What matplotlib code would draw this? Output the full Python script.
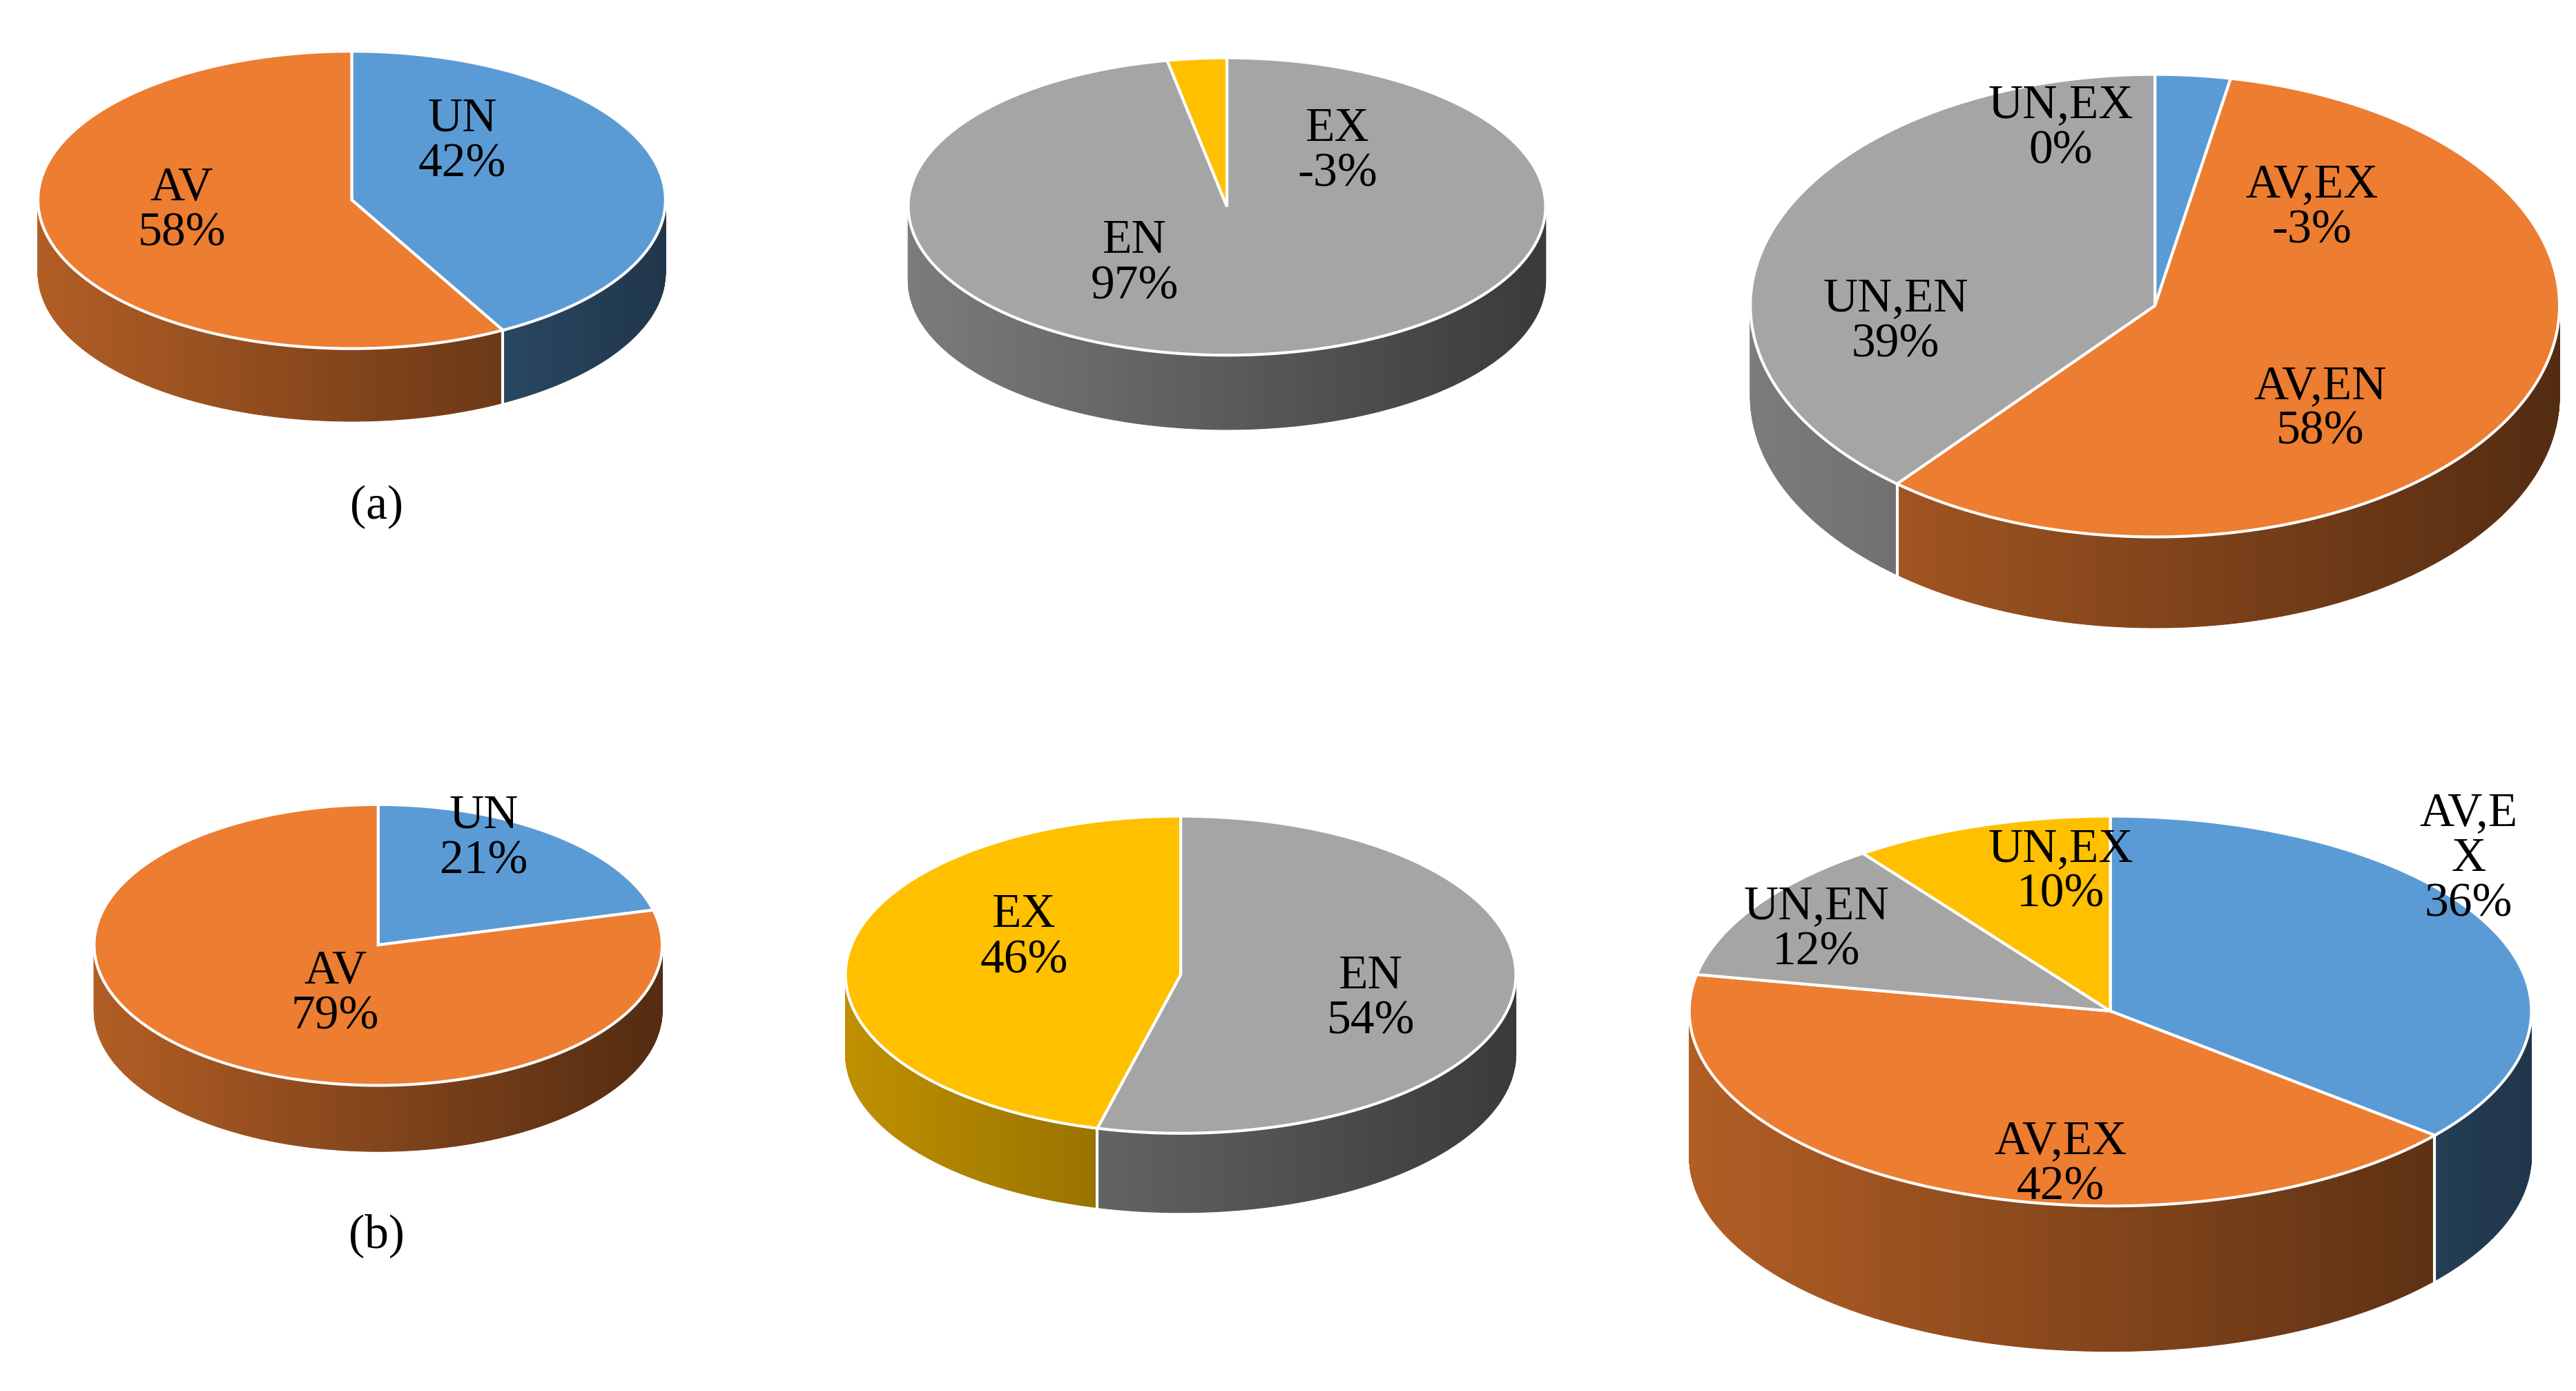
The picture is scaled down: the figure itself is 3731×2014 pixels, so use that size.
import numpy as np
import matplotlib
matplotlib.use('Agg')
import matplotlib.pyplot as plt
from matplotlib.patches import Polygon

BLUE, ORANGE, GRAY, YELLOW = '#5B9BD5', '#ED7D31', '#A5A5A5', '#FFC000'

# slice shares (percent, clockwise from 12 o'clock), colours and labels
p1_vals = [42, 58]
p1_cols = [BLUE, ORANGE]
p1_labels = ['UN\n42%', 'AV\n58%']

p2_vals = [97, 3]
p2_cols = [GRAY, YELLOW]
p2_labels = ['EN\n97%', 'EX\n-3%']

p3_vals = [3, 58, 39, 0]
p3_cols = [BLUE, ORANGE, GRAY, YELLOW]
p3_labels = ['AV,EX\n-3%', 'AV,EN\n58%', 'UN,EN\n39%', 'UN,EX\n0%']

p4_vals = [21, 79]
p4_cols = [BLUE, ORANGE]
p4_labels = ['UN\n21%', 'AV\n79%']

p5_vals = [54, 46]
p5_cols = [GRAY, YELLOW]
p5_labels = ['EN\n54%', 'EX\n46%']

p6_vals = [36, 42, 12, 10]
p6_cols = [BLUE, ORANGE, GRAY, YELLOW]
p6_labels = ['AV,E\nX\n36%', 'AV,EX\n42%', 'UN,EN\n12%', 'UN,EX\n10%']

FONT = 'Liberation Serif'
FS = 50


def shade(col, f):
    c = np.array(matplotlib.colors.to_rgb(col))
    return tuple(c * f)


def pie3d(ax, cx, cy, rx, ry, depth, vals, cols, labels, label_pos):
    vals = np.asarray(vals, float)
    bounds = 90 - np.concatenate([[0], np.cumsum(vals)]) / vals.sum() * 360
    # side wall, front half only, shaded left->right
    for i, col in enumerate(cols):
        a0, a1 = bounds[i], bounds[i + 1]
        ts = np.linspace(a0, a1, max(4, int(abs(a0 - a1)) + 2))
        for t1, t2 in zip(ts[:-1], ts[1:]):
            tm = np.radians((t1 + t2) / 2)
            if np.sin(tm) > 0:
                continue
            r1, r2 = np.radians(t1), np.radians(t2)
            x1, x2 = cx + rx * np.cos(r1), cx + rx * np.cos(r2)
            y1, y2 = cy - ry * np.sin(r1), cy - ry * np.sin(r2)
            f = 0.75 - 0.4 * (np.cos(tm) + 1) / 2
            ax.add_patch(Polygon([(x1, y1), (x2, y2), (x2, y2 + depth), (x1, y1 + depth)],
                                 closed=True, fc=shade(col, f), ec=shade(col, f), lw=0.8))
    # white seams on the side where slice boundaries are at the front
    for b in bounds:
        r = np.radians(b)
        if np.sin(r) < 0:
            x, y = cx + rx * np.cos(r), cy - ry * np.sin(r)
            ax.plot([x, x], [y, y + depth], color='white', lw=3)
    # top surface
    for i, col in enumerate(cols):
        if vals[i] <= 0:
            continue
        ts = np.radians(np.linspace(bounds[i], bounds[i + 1], 200))
        pts = [(cx, cy)] + list(zip(cx + rx * np.cos(ts), cy - ry * np.sin(ts)))
        ax.add_patch(Polygon(pts, closed=True, fc=col, ec='white', lw=3))
    for lab, (lx, ly) in zip(labels, label_pos):
        ax.text(lx, ly, lab, ha='center', va='center', fontsize=FS, family=FONT,
                linespacing=1.05)


fig = plt.figure(figsize=(37.31, 20.14), dpi=100)
ax = fig.add_axes([0, 0, 1, 1])
ax.set_xlim(0, 1560)
ax.set_ylim(842, 0)
ax.axis('off')

pie3d(ax, 213, 121, 190, 90, 44, p1_vals, p1_cols, p1_labels, [(280, 86), (110, 128)])
pie3d(ax, 743, 125, 193, 90, 45, p2_vals, p2_cols, p2_labels, [(687, 160), (810, 92)])
pie3d(ax, 1305, 185, 245, 140, 55, p3_vals, p3_cols, p3_labels,
      [(1400, 126), (1405, 248), (1148, 195), (1248, 78)])
pie3d(ax, 229, 572, 172, 85, 40, p4_vals, p4_cols, p4_labels, [(293, 508), (203, 602)])
pie3d(ax, 715, 590, 203, 96, 48, p5_vals, p5_cols, p5_labels, [(830, 605), (620, 568)])
pie3d(ax, 1278, 612, 255, 118, 88, p6_vals, p6_cols, p6_labels,
      [(1495, 520), (1248, 705), (1100, 563), (1248, 528)])

ax.text(228, 307, '(a)', ha='center', va='center', fontsize=FS, family=FONT)
ax.text(228, 748, '(b)', ha='center', va='center', fontsize=FS, family=FONT)

fig.savefig('out.png', dpi=100, facecolor='white')
